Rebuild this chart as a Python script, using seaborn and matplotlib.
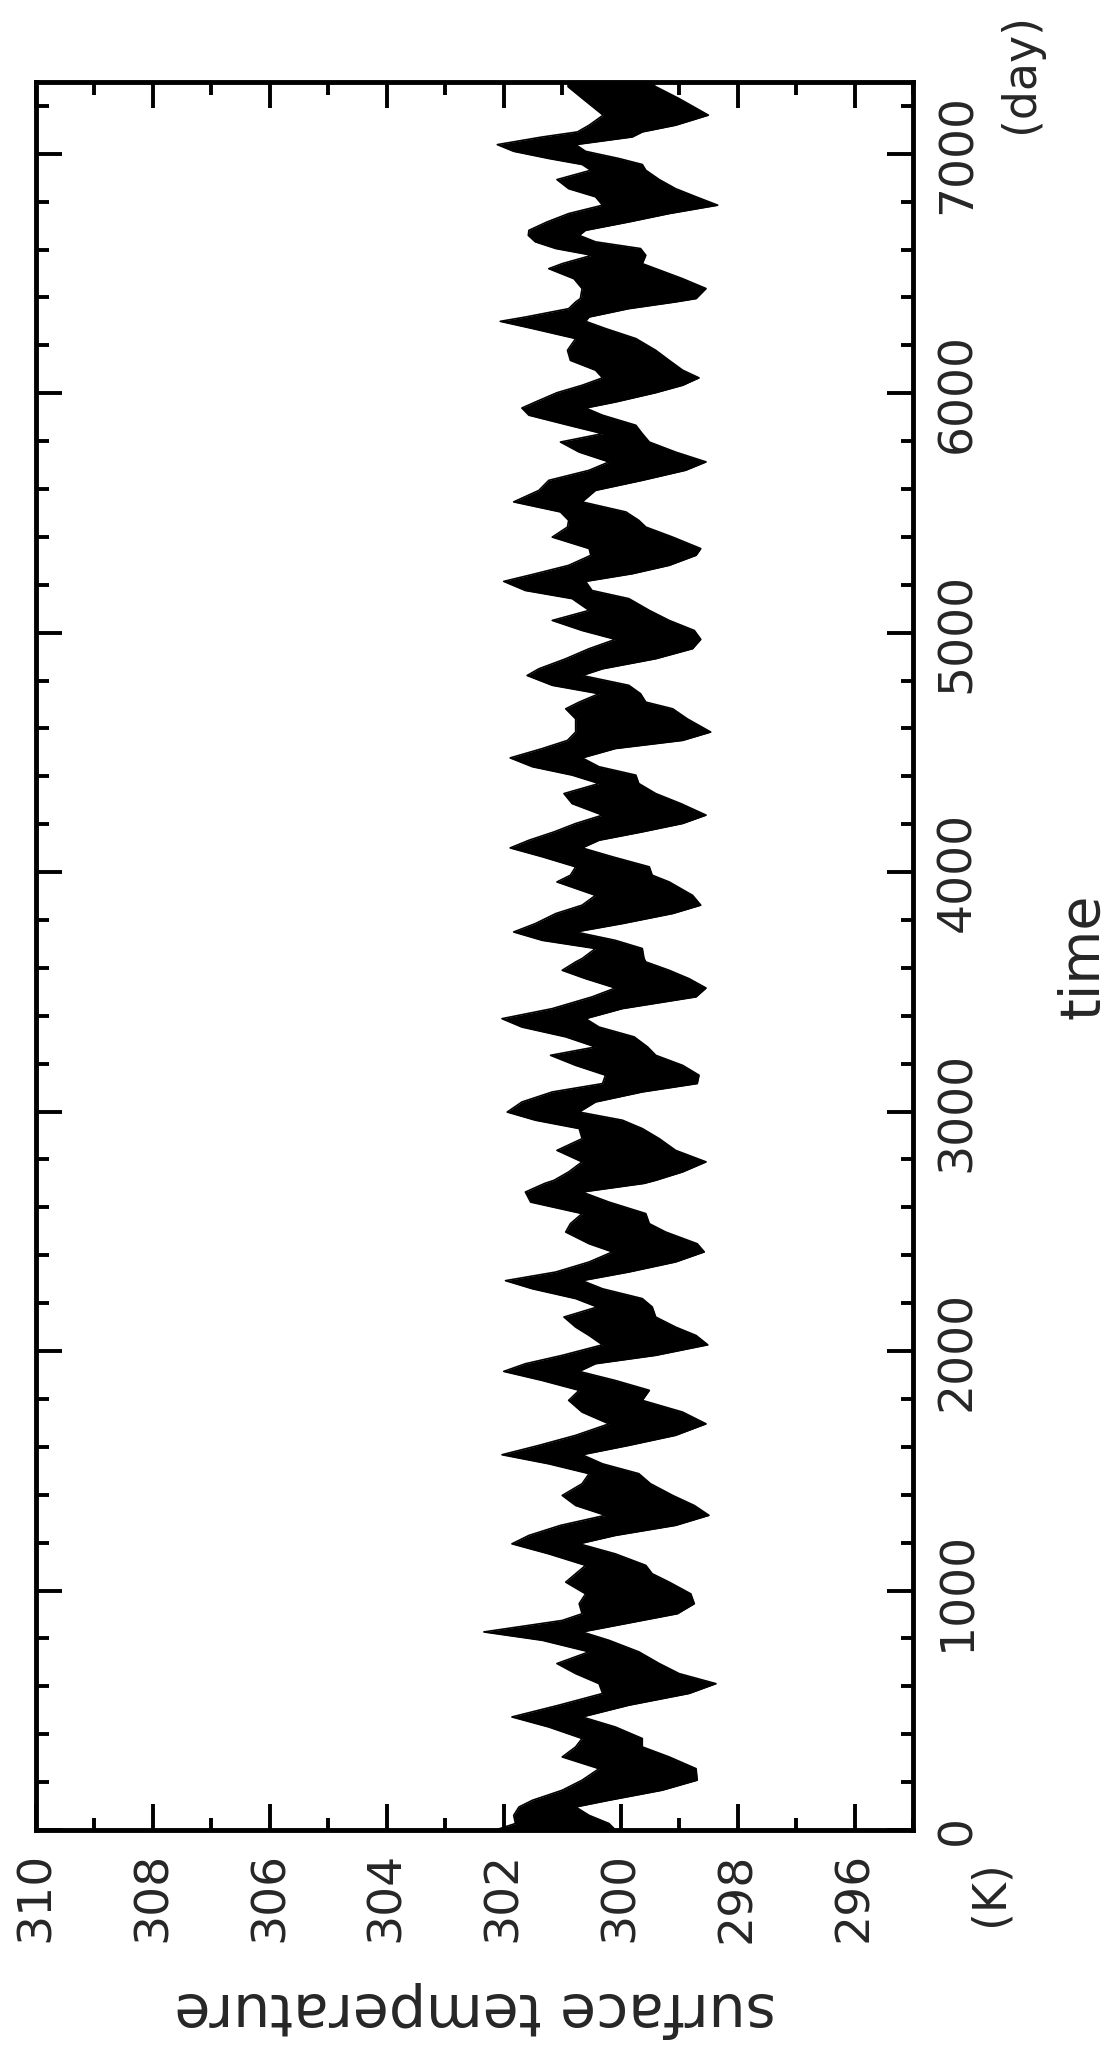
import numpy as np
import pandas as pd
import matplotlib
matplotlib.use("Agg")
import matplotlib.pyplot as plt
import seaborn as sns
from matplotlib.ticker import MultipleLocator

# DATA (upper / lower edge of the daily curve)

day = [7300, 7280, 7230, 7161, 7119, 7091, 7070, 7038, 7010, 6980, 6955, 6931, 6892, 6854,
       6820, 6785, 6750, 6715, 6680, 6659, 6632, 6604, 6576, 6541, 6520, 6478, 6437, 6395,
       6381, 6353, 6318, 6300, 6270, 6228, 6179, 6137, 6096, 6064, 6033, 6002, 5963, 5938,
       5908, 5866, 5831, 5796, 5754, 5713, 5678, 5636, 5594, 5546, 5504, 5469,
       5441, 5399, 5351, 5323, 5281, 5246, 5214, 5176, 5142, 5093, 5051, 5009, 4972, 4933,
       4891, 4849, 4821, 4780, 4745, 4710, 4682, 4640, 4585, 4550,
       4516, 4477, 4440, 4405, 4370, 4328, 4286, 4238, 4203, 4168, 4133, 4101, 4064, 4022,
       3987, 3959, 3903, 3862, 3827, 3785, 3750, 3715, 3681, 3639,
       3625, 3590, 3555, 3516, 3479, 3430, 3388, 3353, 3312, 3270, 3235, 3193, 3152, 3117,
       3082, 3040, 2998, 2964, 2929, 2887, 2838, 2790, 2748, 2713,
       2700, 2664, 2622, 2574, 2532, 2497, 2448, 2414, 2372, 2330, 2294, 2260, 2219, 2184,
       2142, 2100, 2065, 2026, 1982, 1947, 1915, 1877, 1836, 1794,
       1745, 1696, 1648, 1606, 1567, 1529, 1488, 1446, 1397, 1355, 1314, 1272, 1230, 1195,
       1153, 1105, 1070, 1035, 986, 945, 903, 875,
       827, 792, 744, 695, 653, 611, 570, 521, 472, 430, 382, 347, 305, 256, 208, 166, 124,
       96, 61, 27, 0]

t_high = [300.90, 300.90, 300.65, 300.30, 300.54, 300.74, 301.34, 302.11, 301.83, 301.23, 300.66, 300.51, 301.09, 300.89,
          300.43, 300.31, 300.89, 301.26, 301.57, 301.58, 301.46, 301.11, 300.49, 301.00, 301.23, 300.80, 300.66, 300.69,
          300.77, 300.89, 301.63, 302.06, 301.51, 300.77, 300.91, 300.86, 300.43, 300.31, 300.66, 301.09, 301.46, 301.69,
          301.57, 300.89, 300.31, 301.03, 300.71, 300.20, 300.54, 301.23, 301.40, 301.83, 301.03, 300.89,
          300.91, 301.17, 300.54, 300.51, 300.89, 301.46, 302.00, 301.63, 300.83, 300.54, 301.17, 300.66, 300.09, 300.54,
          300.94, 301.40, 301.60, 301.17, 300.37, 300.71, 300.94, 300.77, 300.77, 300.91,
          301.34, 301.89, 301.51, 300.83, 300.37, 300.97, 300.83, 300.31, 300.77, 301.14, 301.57, 301.89, 301.34, 300.77,
          300.86, 301.09, 300.43, 300.66, 301.11, 301.46, 301.83, 301.34, 300.43, 300.66,
          300.77, 301.00, 300.60, 300.09, 300.49, 301.17, 302.03, 301.69, 300.94, 300.43, 301.20, 300.77, 300.26, 300.31,
          301.17, 301.69, 301.94, 301.46, 300.71, 300.66, 301.09, 300.66, 300.89, 301.14,
          301.30, 301.63, 301.54, 300.66, 300.86, 300.94, 300.54, 300.14, 300.54, 301.11, 301.97, 301.51, 300.77, 300.40,
          300.97, 300.77, 300.54, 300.31, 301.00, 301.63, 302.00, 301.34, 300.71, 300.89,
          300.66, 300.20, 300.77, 301.40, 302.03, 301.23, 300.54, 300.66, 301.00, 300.77, 300.26, 301.03, 301.57, 301.86,
          301.23, 300.60, 300.77, 300.94, 300.60, 300.71, 300.66, 301.00,
          302.34, 301.34, 300.54, 301.09, 300.77, 300.37, 300.31, 301.06, 301.86, 301.23, 300.66, 300.77, 301.00, 300.37,
          300.66, 301.00, 301.51, 301.74, 301.83, 301.80, 302.14]

t_low = [299.50, 299.40, 299.00, 298.50, 299.06, 299.63, 299.80, 300.77, 300.60, 300.03, 299.63, 299.57, 299.34, 299.06,
         298.71, 298.34, 299.17, 299.86, 300.60, 300.71, 300.43, 299.66, 299.57, 299.63, 299.40, 298.94, 298.54, 298.71,
         299.06, 299.86, 300.54, 300.60, 300.26, 299.74, 299.40, 299.17, 298.94, 298.66, 298.94, 299.40, 300.09, 300.60,
         300.31, 299.74, 299.63, 299.51, 299.06, 298.54, 298.89, 299.63, 300.43, 300.66, 299.91, 299.69,
         299.57, 299.11, 298.63, 298.71, 299.17, 299.80, 300.60, 300.49, 299.86, 299.51, 299.17, 298.74, 298.63, 298.77,
         299.40, 300.31, 300.66, 299.86, 299.66, 299.57, 299.11, 298.86, 298.46, 298.94,
         300.09, 300.66, 300.37, 299.74, 299.69, 299.40, 298.97, 298.54, 298.94, 299.63, 300.37, 300.66, 300.14, 299.51,
         299.46, 299.17, 298.77, 298.63, 299.11, 299.97, 300.77, 300.09, 299.63, 299.60,
         299.57, 299.17, 298.83, 298.54, 298.71, 299.97, 300.60, 300.37, 299.77, 299.54, 299.40, 298.94, 298.66, 298.69,
         299.63, 300.43, 300.71, 299.97, 299.63, 299.34, 299.06, 298.54, 298.94, 299.40,
         299.60, 300.66, 300.20, 299.57, 299.51, 299.23, 298.69, 298.57, 299.06, 299.86, 300.66, 300.31, 299.63, 299.46,
         299.40, 299.06, 298.71, 298.51, 299.40, 300.43, 300.71, 300.09, 299.51, 299.63,
         298.94, 298.54, 299.06, 299.86, 300.66, 300.31, 299.69, 299.49, 299.11, 298.74, 298.49, 299.06, 300.09, 300.71,
         300.09, 299.57, 299.46, 299.17, 298.80, 298.74, 299.03, 299.63,
         300.66, 300.20, 299.69, 299.34, 299.00, 298.37, 298.83, 299.86, 300.66, 300.09, 299.63, 299.63, 299.17, 298.71,
         298.69, 299.29, 300.20, 300.77, 300.54, 300.20, 300.09]

temp_ticks = [310, 308, 306, 304, 302, 300, 298, 296]
time_ticks = [0, 1000, 2000, 3000, 4000, 5000, 6000, 7000]

df = pd.DataFrame({"day": day, "t_high": t_high, "t_low": t_low}).sort_values("day")

# STYLE

sns.set_style("ticks")
plt.rcParams["font.family"] = ["DejaVu Sans"]
plt.rcParams["axes.linewidth"] = 3.5

# PLOT (figure is drawn turned a quarter turn: time runs up, temperature runs right-to-left)

fig = plt.figure(figsize=(11.19, 20.52), dpi=100)
ax = fig.add_axes([0.0322, 0.1082, 0.7837, 0.8519])

ax.fill_betweenx(df["day"], df["t_low"], df["t_high"], color="black", lw=0)
sns.lineplot(data=df, x="t_high", y="day", orient="y", color="black", lw=1.2, ax=ax)
sns.lineplot(data=df, x="t_low", y="day", orient="y", color="black", lw=1.2, ax=ax)

ax.set_xlim(310, 295)
ax.set_ylim(0, 7300)
ax.set_xlabel("")
ax.set_ylabel("")

ax.set_xticks(temp_ticks)
ax.set_xticklabels([str(t) for t in temp_ticks], rotation=90, ha="center", va="top")
ax.xaxis.set_minor_locator(MultipleLocator(1))
ax.set_yticks(time_ticks)
ax.set_yticklabels([str(t) for t in time_ticks], rotation=90, ha="left", va="center")
ax.yaxis.set_minor_locator(MultipleLocator(200))

ax.tick_params(axis="both", which="both", direction="in", top=True, bottom=True,
               left=True, right=True, width=2.8, color="black")
ax.tick_params(axis="both", which="major", length=19)
ax.tick_params(axis="both", which="minor", length=9)
ax.tick_params(axis="x", labelbottom=True, labeltop=False, labelsize=34, pad=16)
ax.tick_params(axis="y", labelleft=False, labelright=True, labelsize=34, pad=16)
for s in ["top", "bottom", "left", "right"]:
    ax.spines[s].set_color("black")
    ax.spines[s].set_linewidth(3.5)

# LABELS

fig.text(0.968, 0.5341, "time", rotation=90, ha="center", va="center", fontsize=40)
fig.text(0.4245, 0.0205, "surface temperature", rotation=180, ha="center", va="center", fontsize=42)
fig.text(0.8847, 0.0775, "(K)", rotation=90, ha="center", va="center", fontsize=33)
fig.text(0.9124, 0.9644, "(day)", rotation=90, ha="center", va="center", fontsize=33)

fig.savefig("out.png", dpi=100, facecolor="white")
